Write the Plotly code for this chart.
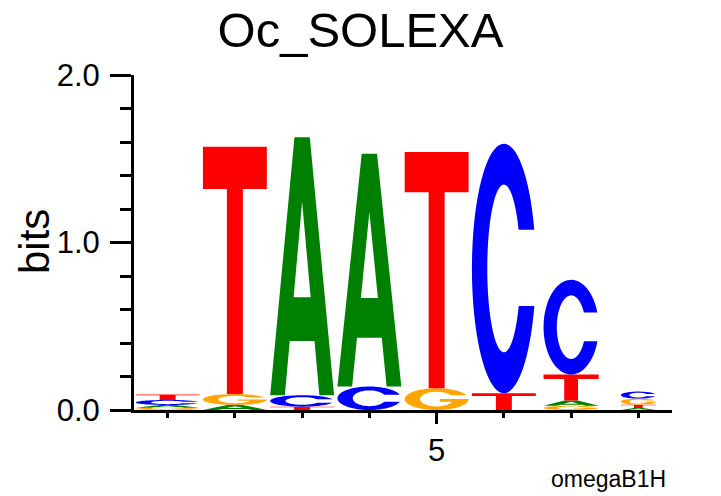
import numpy as np
import plotly.graph_objects as go

# sequence logo data: information content (bits) per base and position
positions = [1, 2, 3, 4, 5, 6, 7, 8]
bits_A = [0.016, 0.030, 1.540, 1.390, 0.000, 0.000, 0.032, 0.012]
bits_C = [0.030, 0.000, 0.068, 0.140, 0.000, 1.490, 0.565, 0.042]
bits_G = [0.014, 0.065, 0.000, 0.000, 0.130, 0.000, 0.025, 0.036]
bits_T = [0.033, 1.476, 0.020, 0.000, 1.410, 0.100, 0.155, 0.020]
column_weight = [0.95, 0.95, 0.95, 0.95, 0.95, 0.95, 0.82, 0.52]

title_text = "Oc_SOLEXA"
motif_name = "omegaB1H"

colors = {"A": "#008000", "C": "#0000FF", "G": "#FFA500", "T": "#FF0000"}
FONT = "Liberation Sans, Arial, Helvetica, sans-serif"

W, H = 721, 496
OFF = 8  # the page body adds an 8px margin, so lay out 8px up/left
L, R, T, B = 134 - OFF, 49 + OFF, 75 - OFF, 86 + OFF


def arc(rx, ry, a0, a1, n=70):
    t = np.linspace(a0, a1, n)
    return list(zip(0.5 + rx * np.cos(t), 0.5 + ry * np.sin(t)))


def glyph(letter):
    """Letter outlines in a unit box, as a list of closed polygons."""
    if letter == "T":
        return [[(0, 1), (1, 1), (1, 0.83), (0.625, 0.83), (0.625, 0),
                 (0.375, 0), (0.375, 0.83), (0, 0.83)]]
    if letter == "A":
        outer = [(0, 0), (0.23, 0), (0.306, 0.21), (0.694, 0.21), (0.77, 0),
                 (1, 0), (0.62, 1), (0.38, 1)]
        hole = [(0.367, 0.38), (0.633, 0.38), (0.5, 0.75)]
        return [outer, hole]
    rxi, ryi = 0.26, 0.336
    if letter == "C":
        top, bot = 0.655, 0.35
        pts = arc(0.5, 0.5, np.arcsin((top - 0.5) / 0.5), 2 * np.pi + np.arcsin((bot - 0.5) / 0.5))
        pts += arc(rxi, ryi, 2 * np.pi + np.arcsin((bot - 0.5) / ryi), np.arcsin((top - 0.5) / ryi))
        return [pts]
    # G
    top, bar_top, bar_bot = 0.68, 0.5, 0.38
    pts = arc(0.5, 0.5, np.arcsin((top - 0.5) / 0.5), 2 * np.pi)
    pts += [(0.55, bar_top), (0.55, bar_bot)]
    pts += arc(rxi, ryi, 2 * np.pi + np.arcsin((bar_bot - 0.5) / ryi), np.arcsin((top - 0.5) / ryi))
    return [pts]


def letter_path(letter, xc, width, y0, height):
    parts = []
    for poly in glyph(letter):
        pts = ["%.4f,%.5f" % (xc - width / 2 + u * width, y0 + v * height) for u, v in poly]
        parts.append("M" + " L".join(pts) + " Z")
    return " ".join(parts)


fig = go.Figure()
# invisible trace so the axes exist
fig.add_trace(go.Scatter(x=positions, y=[0] * len(positions), mode="markers",
                         marker=dict(opacity=0), hoverinfo="skip", showlegend=False))

shapes = []
for i, pos in enumerate(positions):
    stack = {"A": bits_A[i], "C": bits_C[i], "G": bits_G[i], "T": bits_T[i]}
    y0 = 0.0
    for base, h in sorted(stack.items(), key=lambda kv: kv[1]):
        if h <= 0:
            continue
        shapes.append(dict(type="path", xref="x", yref="y",
                           path=letter_path(base, pos, column_weight[i], y0, h),
                           fillcolor=colors[base], line=dict(width=0),
                           fillrule="evenodd", layer="above"))
        y0 += h


# screen pixel -> paper / container fractions
def px_x(p):
    return (p - OFF - L) / (W - L - R)


def px_y(p):
    return (H - B - (p - OFF)) / (H - T - B)


fig.update_layout(
    width=W, height=H,
    margin=dict(l=L, r=R, t=T, b=B),
    paper_bgcolor="white", plot_bgcolor="white",
    shapes=shapes,
    showlegend=False,
    font=dict(family=FONT, color="black"),
    title=dict(text=title_text, x=(360.5 - OFF) / W, xref="container", xanchor="center",
               y=1 - (30 - OFF) / H, yref="container", yanchor="middle",
               font=dict(size=49, family=FONT, color="black")),
    xaxis=dict(range=[0.5, 8.5], showline=True, linewidth=3, linecolor="black",
               showgrid=False, zeroline=False,
               tickmode="array", tickvals=[5], ticktext=["5"],
               ticks="outside", ticklen=11, tickwidth=3, tickcolor="black",
               tickfont=dict(size=31, family=FONT, color="black"),
               minor=dict(tickmode="array", tickvals=positions, ticks="outside",
                          ticklen=5, tickwidth=3, tickcolor="black", showgrid=False)),
    yaxis=dict(range=[0, 2], showline=True, linewidth=3, linecolor="black",
               showgrid=False, zeroline=False,
               tickmode="linear", tick0=0, dtick=1, tickformat=".1f",
               ticks="outside", ticklen=21, tickwidth=3, tickcolor="black",
               ticklabelstandoff=4,
               tickfont=dict(size=31, family=FONT, color="black"),
               minor=dict(dtick=0.2, ticks="outside", ticklen=11, tickwidth=3,
                          tickcolor="black", showgrid=False)),
    annotations=[
        dict(text="bits", textangle=-90, showarrow=False,
             xref="paper", yref="paper", x=px_x(34), y=px_y(242),
             xanchor="center", yanchor="middle",
             font=dict(size=42, family=FONT, color="black")),
        dict(text=motif_name, showarrow=False,
             xref="paper", yref="paper", x=px_x(608), y=px_y(479),
             xanchor="center", yanchor="middle",
             font=dict(size=23, family=FONT, color="black")),
    ],
)

fig.write_html("out.html")
